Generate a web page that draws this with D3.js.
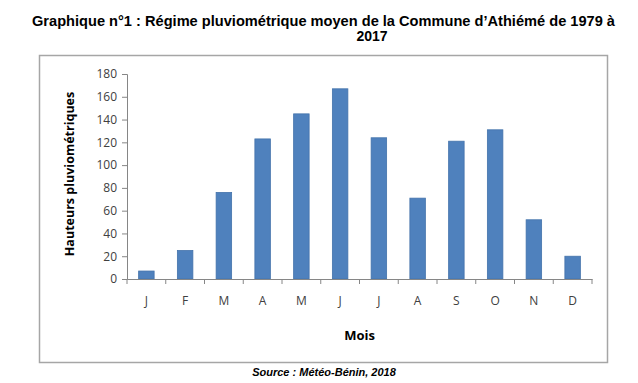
<!DOCTYPE html>
<html><head><meta charset="utf-8">
<script src="https://cdn.jsdelivr.net/npm/d3@7"></script>
<style>body{margin:0;background:#fff}svg{display:block}</style>
</head><body>
<svg id="c" width="638" height="383"></svg>
<script>
const months = ["J","F","M","A","M","J","J","A","S","O","N","D"];
const rainfall = [7, 25, 76, 123, 145, 167, 124, 71, 121, 131, 52, 20];
const yTicks = [0,20,40,60,80,100,120,140,160,180];
const titleLines = ["Graphique n°1 : Régime pluviométrique moyen de la Commune d’Athiémé de 1979 à","2017"];
const yLabel = "Hauteurs pluviométriques";
const xLabel = "Mois";
const source = "Source : Météo-Bénin, 2018";

const svg = d3.select("#c");
const m = {l:127, r:592, t:74, b:279};
const idx = months.map((d,i)=>i);
const x = d3.scaleBand().domain(idx).range([m.l,m.r]).paddingInner(0.6).paddingOuter(0.3);
const xb = d3.scaleBand().domain(idx).range([m.l,m.r]);
const y = d3.scaleLinear().domain([0,180]).range([m.b,m.t]);

// title
svg.append("text").attr("x",323.5).attr("y",26).attr("text-anchor","middle")
  .attr("font-family","Liberation Sans, Arial").attr("font-weight","bold").attr("font-size",14.4)
  .attr("textLength",583).attr("lengthAdjust","spacingAndGlyphs").attr("fill","#000").text(titleLines[0]);
svg.append("text").attr("x",372).attr("y",41).attr("text-anchor","middle")
  .attr("font-family","Liberation Sans, Arial").attr("font-weight","bold").attr("font-size",14).attr("fill","#000").text(titleLines[1]);

// frame
svg.append("rect").attr("x",39.5).attr("y",55.5).attr("width",568).attr("height",307)
  .attr("fill","none").attr("stroke","#a6a6a6").attr("stroke-width",1.5);

// y axis
const yAx = svg.append("g").attr("transform",`translate(${m.l},0)`)
  .call(d3.axisLeft(y).tickValues(yTicks).tickSize(5).tickPadding(5));
yAx.select(".domain").attr("stroke","#868686");
yAx.selectAll(".tick line").attr("stroke","#868686");
yAx.selectAll(".tick text").attr("font-family","Open Sans").attr("font-size",12).attr("fill","#404040");

// bars
svg.selectAll(".bar").data(rainfall).join("rect")
  .attr("x",(d,i)=>x(i)).attr("width",x.bandwidth())
  .attr("y",d=>y(d)).attr("height",d=>y(0)-y(d))
  .attr("fill","#4f81bd").attr("stroke","#4473ab").attr("stroke-width",0.8);

// x axis
const xAx = svg.append("g").attr("transform",`translate(0,${m.b})`)
  .call(d3.axisBottom(xb).tickFormat(i=>months[i]).tickSize(0).tickPadding(17));
xAx.select(".domain").attr("stroke","#868686");
xAx.selectAll(".tick text").attr("font-family","Open Sans").attr("font-size",12).attr("fill","#404040");
const bounds = idx.map(i=>xb(i)).concat([m.r]);
svg.append("g").selectAll("line").data(bounds).join("line")
  .attr("x1",d=>d).attr("x2",d=>d).attr("y1",m.b).attr("y2",m.b+5).attr("stroke","#868686");

// axis labels
svg.append("text").attr("transform",`translate(74,174) rotate(-90)`).attr("text-anchor","middle")
  .attr("font-family","Open Sans").attr("font-weight","bold").attr("font-size",12.5).attr("fill","#000").text(yLabel);
svg.append("text").attr("x",(m.l+m.r)/2).attr("y",340).attr("text-anchor","middle")
  .attr("font-family","Open Sans").attr("font-weight","bold").attr("font-size",13).attr("fill","#000").text(xLabel);

// source
svg.append("text").attr("x",324).attr("y",376).attr("text-anchor","middle")
  .attr("font-family","Liberation Sans, Arial").attr("font-weight","bold").attr("font-style","italic").attr("font-size",11).attr("fill","#000").text(source);
</script>
</body></html>
